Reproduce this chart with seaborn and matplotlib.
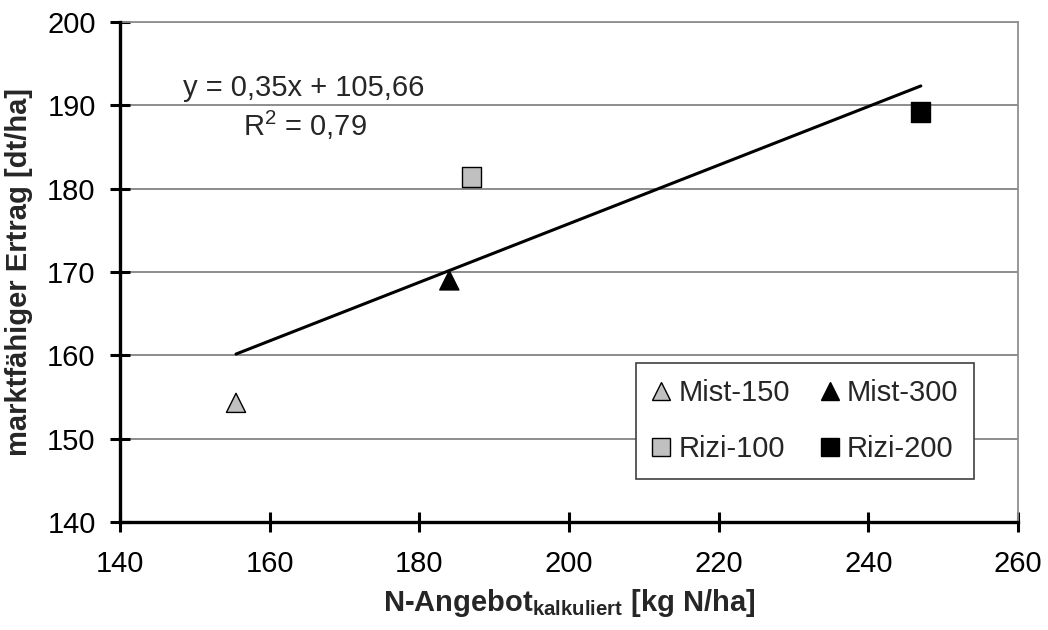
import numpy as np
import pandas as pd
import matplotlib
matplotlib.use("Agg")
import matplotlib.pyplot as plt
import seaborn as sns
from matplotlib.lines import Line2D

# --- Data ---
treatments = ['Mist-150', 'Mist-300', 'Rizi-100', 'Rizi-200']
n_supply = [155.5, 184.0, 187.0, 247.0]
yield_dt = [154.3, 169.0, 181.4, 189.2]
fill_colors = ['#c0c0c0', '#000000', '#c0c0c0', '#000000']
marker_shapes = ['^', '^', 's', 's']
x_ticks = [140, 160, 180, 200, 220, 240, 260]
y_ticks = [140, 150, 160, 170, 180, 190, 200]

df = pd.DataFrame({'treatment': treatments, 'N': n_supply, 'Ertrag': yield_dt})

# --- Setup ---
sns.set_style("white")
plt.rcParams['font.family'] = ['Liberation Sans', 'DejaVu Sans']
plt.rcParams['mathtext.fontset'] = 'custom'
plt.rcParams['mathtext.rm'] = 'Liberation Sans'
plt.rcParams['mathtext.bf'] = 'Liberation Sans:bold'
FS = 21

fig = plt.figure(figsize=(10.48, 6.3), dpi=100)
ax = fig.add_axes([0.1145, 0.1714, 0.857, 0.7936])

# grid lines
for yv in y_ticks[1:]:
    ax.axhline(yv, color='#6e6e6e', lw=1.1, zorder=0)

# --- Trend line (linear fit) ---
sns.regplot(data=df, x='N', y='Ertrag', scatter=False, ci=None, truncate=True,
            line_kws={'color': 'black', 'lw': 2.2, 'zorder': 2}, ax=ax)

# --- Points ---
sns.scatterplot(data=df, x='N', y='Ertrag', hue='treatment', style='treatment',
                palette=dict(zip(treatments, fill_colors)),
                markers=dict(zip(treatments, marker_shapes)),
                s=190, edgecolor='black', linewidth=1, zorder=3, ax=ax, legend=False)

ax.text(164.5, 192.1, "y = 0,35x + 105,66", fontsize=FS, ha='center', va='center')
ax.text(164.7, 187.6, r"R$^2$ = 0,79", fontsize=FS, ha='center', va='center')

# --- Legend ---
handles = {t: Line2D([], [], ls='none', marker=m, markersize=13, markerfacecolor=c,
                     markeredgecolor='black', markeredgewidth=1)
           for t, m, c in zip(treatments, marker_shapes, fill_colors)}
order = ['Mist-150', 'Rizi-100', 'Mist-300', 'Rizi-200']
leg = ax.legend([handles[t] for t in order], order, ncol=2, fontsize=FS,
                loc='upper right', bbox_to_anchor=(0.951, 0.318), borderaxespad=0,
                frameon=True, fancybox=False, edgecolor='#404040', framealpha=1,
                handlelength=0.65, handletextpad=0.25, columnspacing=1.05,
                labelspacing=0.95, borderpad=0.55)
leg.get_frame().set_linewidth(1.2)

# --- Axes styling ---
ax.set_xlim(140, 260)
ax.set_ylim(140, 200)
ax.set_xticks(x_ticks)
ax.set_yticks(y_ticks)
ax.tick_params(axis='both', direction='inout', length=14, width=2.2, labelsize=FS,
               colors='black', left=True, bottom=True)
ax.tick_params(axis='x', pad=13.5)
ax.tick_params(axis='y', pad=10.5)
for side in ['left', 'bottom']:
    ax.spines[side].set_color('black')
    ax.spines[side].set_linewidth(2.4)
for side in ['top', 'right']:
    ax.spines[side].set_color('#909090')
    ax.spines[side].set_linewidth(1.3)
ax.spines['left'].set_zorder(4)
ax.spines['bottom'].set_zorder(4)

ax.set_xlabel(r"N-Angebot$_{\mathbf{kalkuliert}}$ [kg N/ha]", fontsize=FS,
              fontweight='bold', labelpad=6)
ax.set_ylabel("marktfähiger Ertrag [dt/ha]", fontsize=FS, fontweight='bold', labelpad=10)

fig.savefig("out.png", dpi=100)
